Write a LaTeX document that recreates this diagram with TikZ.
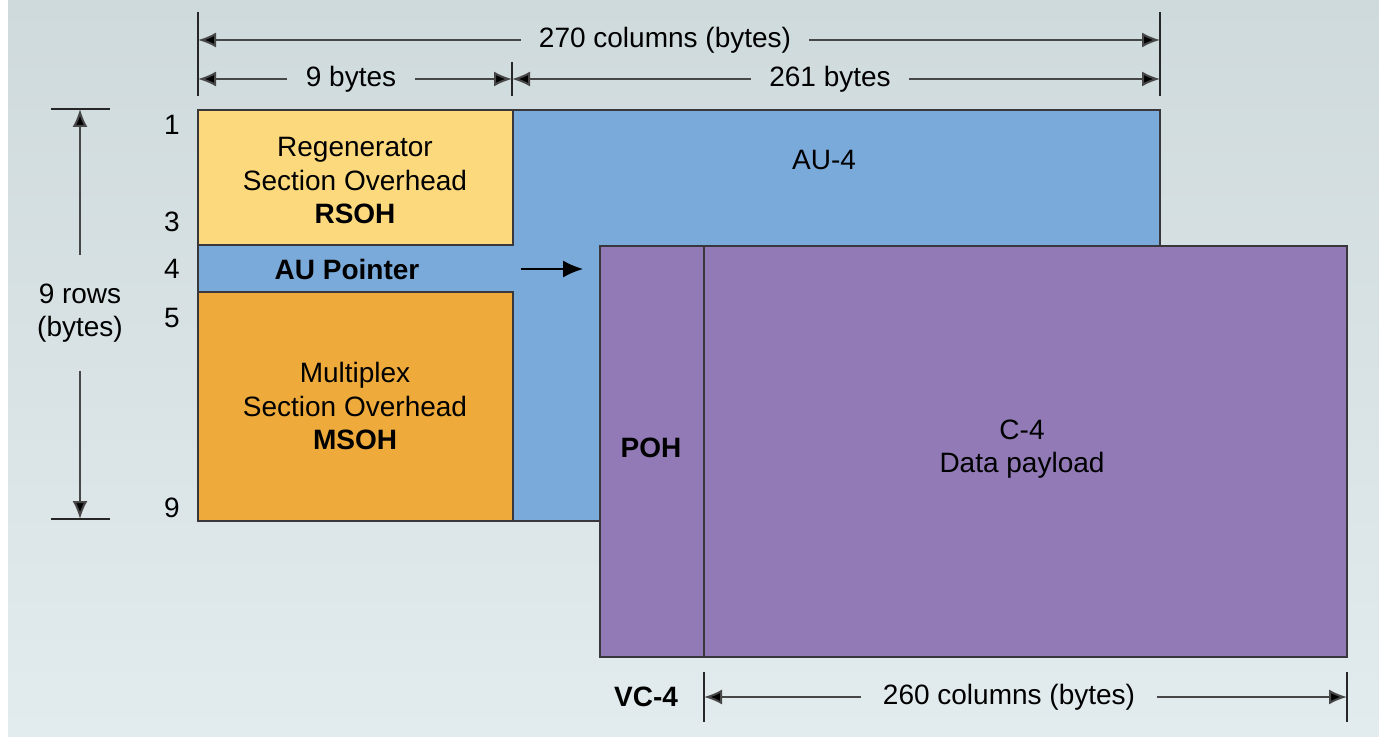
\documentclass[tikz,border=0pt]{standalone}
\usepackage{fontspec}
\setmainfont{Liberation Sans}
\usepackage{xcolor}
\usetikzlibrary{positioning}
\usetikzlibrary{arrows.meta}
\definecolor{bgtop}{RGB}{207,218,221}
\definecolor{bgbot}{RGB}{226,235,237}
\definecolor{rsohcol}{RGB}{252,217,125}
\definecolor{msohcol}{RGB}{238,170,58}
\definecolor{aucol}{RGB}{122,170,218}
\definecolor{vccol}{RGB}{145,122,181}
\definecolor{edge}{RGB}{55,55,60}
\tikzstyle{lbl}=[font=\fontsize{14}{16.75}\selectfont, align=center, inner sep=0pt]
\tikzset{blk/.style={draw=edge, line width=0.7pt}}
\tikzset{dim/.style={draw=black!72, line width=1pt, -{Latex[length=9pt,width=7.5pt,fill=black]}}}
\tikzset{tick/.style={draw=black!85, line width=0.6pt}}
\tikzset{dimlbl/.style={lbl, inner xsep=9pt}}

\begin{document}
\begin{tikzpicture}[x=0.5pt, y=-0.5pt]
    \useasboundingbox (0,0) rectangle (1379,737);
    \shade[top color=bgtop, bottom color=bgbot] (8,0) rectangle (1379,737);
    \fill[white] (0,0) rectangle (8,737);

    % frame blocks
    \draw[blk, fill=aucol] (198,110) rectangle (1160,521);
    \draw[blk, fill=rsohcol] (198,110) rectangle (513,245);
    \draw[blk, fill=msohcol] (198,292) rectangle (513,521);
    \draw[blk, fill=vccol] (600,246) rectangle (1347,657);
    \draw[blk] (704,246) -- (704,657);

    % block labels
    \node[lbl] (rsoh) at (355,181) {Regenerator\\Section Overhead\\\textbf{RSOH}};
    \node[lbl] (msoh) at (355,406) {Multiplex\\Section Overhead\\\textbf{MSOH}};
    \node[lbl, font=\fontsize{14}{16.75}\selectfont\bfseries] (aup) at (347,269) {AU Pointer};
    \node[lbl] (au4) at (824,160) {AU-4};
    \node[lbl, font=\fontsize{14}{16.75}\selectfont\bfseries] (poh) at (651,448) {POH};
    \node[lbl] (c4) at (1022,449) {C-4\\Data payload};

    % pointer arrow
    \coordinate (ptrtail) at (521,269);
    \coordinate (ptrtip) at (583,269);
    \draw[line width=0.8pt, -{Latex[length=10pt,width=8.5pt]}] (ptrtail) -- (ptrtip);

    % row numbers
    \foreach \y/\n in {125/1, 222/3, 269/4, 318/5, 508/9}
        \node[lbl] (row\n) at (172,\y) {\n};

    % top dimensions
    \coordinate (tA) at (198,40);
    \coordinate (tB) at (1160,40);
    \coordinate (sA) at (198,79);
    \coordinate (sB) at (512,79);
    \coordinate (sC) at (1160,79);
    \draw[tick] (198,12) -- (198,96);
    \draw[tick] (1160,12) -- (1160,96);
    \draw[tick] (512,62) -- (512,96);

    \node[dimlbl] (w270) at (665,40) {270 columns (bytes)};
    \draw[dim] (w270.west) -- (tA);
    \draw[dim] (w270.east) -- (tB);

    \node[dimlbl] (w9) at (351,79) {9 bytes};
    \draw[dim] (w9.west) -- (sA);
    \draw[dim] (w9.east) -- (sB);

    \node[dimlbl] (w261) at (830,79) {261 bytes};
    \draw[dim] (w261.west) -- (sB);
    \draw[dim] (w261.east) -- (sC);

    % row dimension
    \coordinate (rA) at (80,109);
    \coordinate (rB) at (80,519);
    \draw[tick] (51,109) -- (110,109);
    \draw[tick] (51,519) -- (110,519);
    \node[lbl, inner ysep=14pt] (h9) at (80,313) {9 rows\\(bytes)};
    \draw[dim] (h9.north) -- (rA);
    \draw[dim] (h9.south) -- (rB);

    % bottom dimension
    \node[lbl, font=\fontsize{14}{16.75}\selectfont\bfseries] (vc4) at (646,697) {VC-4};
    \coordinate (bA) at (704,697);
    \coordinate (bB) at (1347,697);
    \draw[tick] (704,672) -- (704,722);
    \draw[tick] (1347,672) -- (1347,722);
    \node[dimlbl, inner xsep=11pt] (w260) at (1009,697) {260 columns (bytes)};
    \draw[dim] (w260.west) -- (bA);
    \draw[dim] (w260.east) -- (bB);

\end{tikzpicture}
\end{document}
